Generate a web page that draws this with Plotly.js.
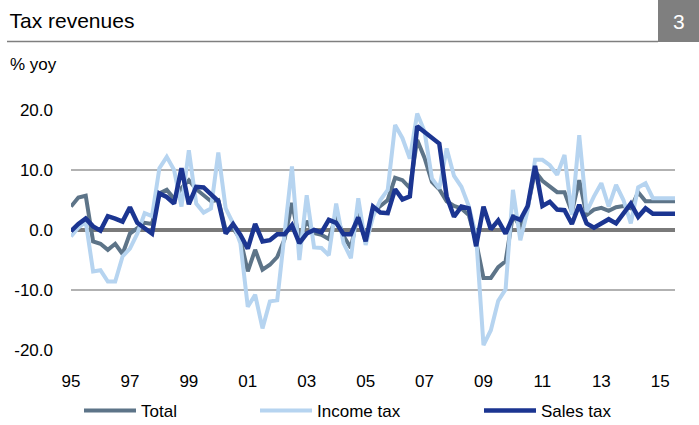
<!DOCTYPE html>
<html>
<head>
<meta charset="utf-8">
<script src="https://cdn.plot.ly/plotly-3.0.1.min.js"></script>
<style>
  html, body { margin: 0; padding: 0; background: #fff; }
  #chart { width: 699px; height: 425px; }
</style>
</head>
<body>
<div id="chart"></div>
<script>
// ---- Data (quarterly, % yoy) ----
const startYear = 1995;           // first quarter: 1995 Q1
const seriesNames = ["Total", "Income tax", "Sales tax"];

const total = [
  3.9, 5.4, 5.7, -1.9, -2.3, -3.3, -2.3, -4.0, -0.6, 0.4, 1.2, 1.0,
  6.1, 6.7, 5.2, 7.0, 8.3, 6.8, 5.9, 4.8, 5.0, 0.0, 0.3, -1.5,
  -6.9, -3.3, -6.6, -5.8, -4.5, -1.5, 4.5, -1.5, 1.5, -0.5, -0.8, -1.5,
  2.5, -1.0, -3.0, 3.0, -2.0, 3.0, 4.0, 5.0, 8.7, 8.3, 7.0, 15.0,
  12.0, 8.0, 6.8, 4.8, 4.0, 3.6, 2.5, -2.0, -8.0, -8.0, -6.2, -5.2,
  2.5, 0.5, 3.8, 9.8, 8.2, 7.2, 6.3, 6.3, 3.0, 8.3, 2.5, 3.4,
  3.7, 3.2, 3.8, 4.0, 3.6, 6.3, 4.8, 4.8, 4.8, 4.8, 4.8
];

const incomeTax = [
  -1.1, 0.4, 1.4, -6.9, -6.7, -8.6, -8.6, -4.4, -3.1, -0.6, 2.8, 2.3,
  10.3, 12.2, 10.0, 3.9, 13.3, 4.4, 2.9, 3.6, 12.9, 3.6, 1.1, -2.2,
  -12.8, -10.8, -16.4, -11.9, -11.7, -0.5, 10.6, -5.0, 5.8, -2.9, -3.0, -4.2,
  4.4, -2.2, -4.7, 5.3, -2.5, 2.2, 5.0, 6.7, 17.5, 15.3, 11.9, 19.4,
  16.4, 8.6, 6.9, 13.6, 9.0, 7.2, 4.0, -1.0, -19.2, -16.7, -11.8, -9.9,
  6.7, -1.7, 3.3, 11.7, 11.7, 10.8, 9.2, 12.5, 2.5, 15.8, 3.0, 5.6,
  7.8, 3.9, 7.5, 5.0, 1.1, 7.1, 7.8, 5.3, 5.3, 5.3, 5.3
];

const salesTax = [
  -0.2, 1.0, 1.9, 0.6, -0.1, 2.3, 1.9, 1.4, 3.8, 1.2, 0.3, -0.6,
  6.1, 5.5, 4.4, 10.3, 4.3, 7.2, 7.1, 6.0, 4.8, -0.6, 1.0, -0.8,
  -3.1, 1.0, -1.9, -1.7, -0.7, -0.7, 0.8, -2.2, -0.6, 0.0, -0.4, 1.7,
  1.2, -0.7, -0.7, 2.1, -1.9, 3.9, 2.9, 2.8, 6.8, 5.1, 5.6, 17.3,
  16.3, 15.3, 14.4, 5.6, 2.2, 3.9, 3.6, -2.7, 3.9, 0.1, 1.6, -0.6,
  2.2, 1.7, 4.0, 10.7, 4.0, 4.7, 3.4, 3.3, 1.0, 4.2, 1.1, 0.4,
  1.1, 1.8, 1.1, 2.7, 4.4, 2.2, 3.6, 2.7, 2.7, 2.7, 2.7
];

const tickYears  = [1995, 1997, 1999, 2001, 2003, 2005, 2007, 2009, 2011, 2013, 2015];
const tickLabels = ["95", "97", "99", "01", "03", "05", "07", "09", "11", "13", "15"];
const yTicks = [-20, -10, 0, 10, 20];
const yTickLabels = ["-20.0", "-10.0", "0.0", "10.0", "20.0"];

// time axis: quarter k -> year + k/4
const quarters = total.map((_, k) => startYear + k / 4);

// ---- Styling ----
const FONT = "Liberation Sans, Arial, Helvetica, sans-serif";
const colors = ["#5d7488", "#b6d4f0", "#1b3591"];
const widths = [4, 4, 4.5];
const values = [total, incomeTax, salesTax];
const legendIds = ["legend", "legend2", "legend3"];

const traces = values.map((v, s) => ({
  type: "scatter",
  mode: "lines",
  x: quarters,
  y: v,
  name: seriesNames[s],
  line: { color: colors[s], width: widths[s] },
  legend: legendIds[s],
  hoverinfo: "skip"
}));

// plot area in pixels: x 71..675, y 110..350
const W = 699, H = 425;
const L = 71, R = 675, T = 110, B = 350;
const px = (x) => (x - L) / (R - L);
const py = (y) => (B - y) / (B - T);

const ITEMW = 52;
const legendBase = {
  orientation: "h",
  xanchor: "left",
  yanchor: "middle",
  y: py(411),
  itemwidth: ITEMW,
  bgcolor: "rgba(0,0,0,0)",
  borderwidth: 0,
  font: { family: FONT, size: 17, color: "#000" }
};
// legend text starts (px) in the original: 141, 317, 541
const shiftL = 40 + (ITEMW - 30);

const layout = {
  width: W,
  height: H,
  margin: { l: L, r: W - R, t: T, b: H - B, pad: 0, autoexpand: false },
  paper_bgcolor: "#fff",
  plot_bgcolor: "#fff",
  font: { family: FONT, size: 17, color: "#000" },
  title: {
    text: "Tax revenues",
    font: { family: FONT, size: 21, color: "#000" },
    xref: "container", yref: "container",
    x: 9.5 / W, xanchor: "left",
    y: 1 - 21 / H, yanchor: "middle"
  },
  xaxis: {
    range: [1995, 2015.5],
    tickmode: "array",
    tickvals: tickYears,
    ticktext: tickLabels,
    showgrid: false,
    zeroline: false,
    showline: false,
    ticks: "",
    ticklabelstandoff: 19,
    tickfont: { family: FONT, size: 17, color: "#000" },
    fixedrange: true
  },
  yaxis: {
    range: [-20, 20],
    tickmode: "array",
    tickvals: yTicks,
    ticktext: yTickLabels,
    showgrid: true,
    gridcolor: "#b2b2b2",
    gridwidth: 1.5,
    zeroline: true,
    zerolinecolor: "#7a7a7a",
    zerolinewidth: 4,
    showline: false,
    ticks: "",
    ticklabelstandoff: 17,
    tickfont: { family: FONT, size: 17, color: "#000" },
    fixedrange: true
  },
  showlegend: true,
  legend:  Object.assign({}, legendBase, { x: px(141 - shiftL) }),
  legend2: Object.assign({}, legendBase, { x: px(317 - shiftL) }),
  legend3: Object.assign({}, legendBase, { x: px(541 - shiftL) }),
  shapes: [
    { type: "line", xref: "paper", yref: "paper",
      x0: px(7), x1: px(658), y0: py(41.5), y1: py(41.5),
      line: { color: "#7f7f7f", width: 1.5 } },
    { type: "rect", xref: "paper", yref: "paper",
      x0: px(658), x1: px(699), y0: py(42), y1: py(0),
      fillcolor: "#7f7f7f", line: { width: 0 } }
  ],
  annotations: [
    { text: "% yoy", xref: "paper", yref: "paper",
      x: px(8), y: py(64.5), xanchor: "left", yanchor: "middle",
      showarrow: false, font: { family: FONT, size: 17, color: "#000" } },
    { text: "3", xref: "paper", yref: "paper",
      x: px(678.5), y: py(21), xanchor: "center", yanchor: "middle",
      showarrow: false, font: { family: FONT, size: 21, color: "#fff" } }
  ]
};

Plotly.newPlot("chart", traces, layout, { displayModeBar: false, staticPlot: true });
</script>
</body>
</html>
